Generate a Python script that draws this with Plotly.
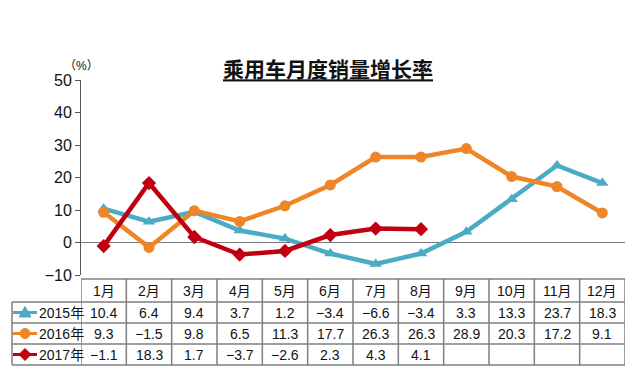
import plotly.graph_objects as go

months = ["1月", "2月", "3月", "4月", "5月", "6月", "7月", "8月", "9月", "10月", "11月", "12月"]
series_names = ["2015年", "2016年", "2017年"]
v2015 = [10.4, 6.4, 9.4, 3.7, 1.2, -3.4, -6.6, -3.4, 3.3, 13.3, 23.7, 18.3]
v2016 = [9.3, -1.5, 9.8, 6.5, 11.3, 17.7, 26.3, 26.3, 28.9, 20.3, 17.2, 9.1]
v2017 = [-1.1, 18.3, 1.7, -3.7, -2.6, 2.3, 4.3, 4.1]
y_ticks = [-10, 0, 10, 20, 30, 40, 50]

colors = ["#4AABC5", "#EE8526", "#C00010"]
symbols = ["triangle-up", "circle", "diamond"]
all_vals = [v2015, v2016, v2017]

W, H = 640, 384
ml, mr, mt, mb = 81, 15, 80, 109
PW, PH = W - ml - mr, H - mt - mb
YMIN, YMAX = -10, 50
XMIN, XMAX = -0.5, 11.5

def px(pix):
    return (pix - ml) / PW

def py(pix):
    return 1 - (pix - mt) / PH

fig = go.Figure()
xs = list(range(len(months)))
for name, vals, c, s in zip(series_names, all_vals, colors, symbols):
    fig.add_trace(go.Scatter(
        x=xs[:len(vals)], y=vals, mode="lines+markers", name=name,
        line=dict(color=c, width=4.5),
        marker=dict(symbol=s, size=11, color=c),
        showlegend=False, cliponaxis=False))

# zero line
fig.add_shape(type="line", xref="paper", yref="y", x0=0, x1=1, y0=0, y1=0,
              line=dict(color="#7a7a7a", width=1), layer="below")

row_edges = [279, 302, 323, 344, 365]
tcol = "#7f7f7f"
font_tab = dict(family="Liberation Sans, Arial, Noto Sans CJK SC, sans-serif", size=14, color="#111111")
for i, yp in enumerate(row_edges):
    if i == 0:
        fig.add_shape(type="line", xref="x", yref="paper", x0=XMIN, x1=XMAX, y0=py(yp), y1=py(yp),
                      line=dict(color=tcol, width=1.5))
    else:
        fig.add_shape(type="line", xref="paper", yref="paper", x0=px(12), x1=1,
                      y0=py(yp), y1=py(yp), line=dict(color=tcol, width=1.5))
for k in range(13):
    fig.add_shape(type="line", xref="x", yref="paper", x0=k - 0.5, x1=k - 0.5,
                  y0=py(row_edges[0]), y1=py(row_edges[-1]), line=dict(color=tcol, width=1.5))
fig.add_shape(type="line", xref="paper", yref="paper", x0=px(12), x1=px(12),
              y0=py(row_edges[1]), y1=py(row_edges[-1]), line=dict(color=tcol, width=1.5))

def fmt(v):
    s = f"{abs(v):.1f}"
    return ("−" + s) if v < 0 else s

def key_path(sym, cx, cy):
    if sym == "triangle-up":
        pts = [(cx, cy - 6), (cx + 6, cy + 4.5), (cx - 6, cy + 4.5)]
    elif sym == "diamond":
        pts = [(cx, cy - 6), (cx + 6, cy), (cx, cy + 6), (cx - 6, cy)]
    else:
        return None
    return "M " + " L ".join(f"{px(a):.5f},{py(b):.5f}" for a, b in pts) + " Z"

for j, m in enumerate(months):
    fig.add_annotation(x=j, y=py((row_edges[0] + row_edges[1]) / 2), xref="x", yref="paper",
                       xanchor="center", yanchor="middle",
                       text=m, showarrow=False, font=font_tab)
for r, vals in enumerate(all_vals):
    ymid = (row_edges[r + 1] + row_edges[r + 2]) / 2
    yc = py(ymid)
    for j, v in enumerate(vals):
        fig.add_annotation(x=j, y=yc, xref="x", yref="paper", text=fmt(v),
                           xanchor="center", yanchor="middle",
                           showarrow=False, font=font_tab)
    fig.add_shape(type="line", xref="paper", yref="paper", x0=px(13), x1=px(37), y0=yc, y1=yc,
                  line=dict(color=colors[r], width=3))
    path = key_path(symbols[r], 25, ymid)
    if path:
        fig.add_shape(type="path", xref="paper", yref="paper", path=path,
                      fillcolor=colors[r], line=dict(color=colors[r], width=1))
    else:
        fig.add_shape(type="circle", xref="paper", yref="paper",
                      x0=px(20), x1=px(30), y0=py(ymid + 5), y1=py(ymid - 5),
                      fillcolor=colors[r], line=dict(color=colors[r], width=1))
    fig.add_annotation(x=px(37), y=yc, xref="paper", yref="paper", xanchor="left", yanchor="middle",
                       text=series_names[r], showarrow=False, font=font_tab)

fig.add_annotation(x=px(81), y=py(66), xref="paper", yref="paper", xanchor="center", yanchor="middle",
                   text="（%）", showarrow=False,
                   font=dict(family="Liberation Sans, Noto Sans CJK SC, sans-serif", size=12, color="#111111"))

fig.update_layout(
    width=W, height=H,
    margin=dict(l=ml, r=mr, t=mt, b=mb),
    paper_bgcolor="white", plot_bgcolor="white",
    title=dict(text="<b><u>乘用车月度销量增长率</u></b>", x=328 / W, xanchor="center", y=1 - 70 / H, yanchor="middle",
               font=dict(family="Noto Sans CJK SC, sans-serif", size=21, color="#111111")),
    xaxis=dict(range=[XMIN, XMAX], showticklabels=False, showgrid=False, zeroline=False,
               showline=False, fixedrange=True, automargin=False),
    yaxis=dict(range=[YMIN, YMAX], tickvals=y_ticks, showgrid=False, zeroline=False,
               showline=True, linecolor="#555555", linewidth=1, ticks="outside", ticklen=5,
               tickcolor="#555555", automargin=False, fixedrange=True,
               tickfont=dict(family="Liberation Sans, Arial, sans-serif", size=16, color="#111111")),
)
fig.write_html("out.html", config={"displayModeBar": False},
               post_script="document.body.style.margin='0';")
